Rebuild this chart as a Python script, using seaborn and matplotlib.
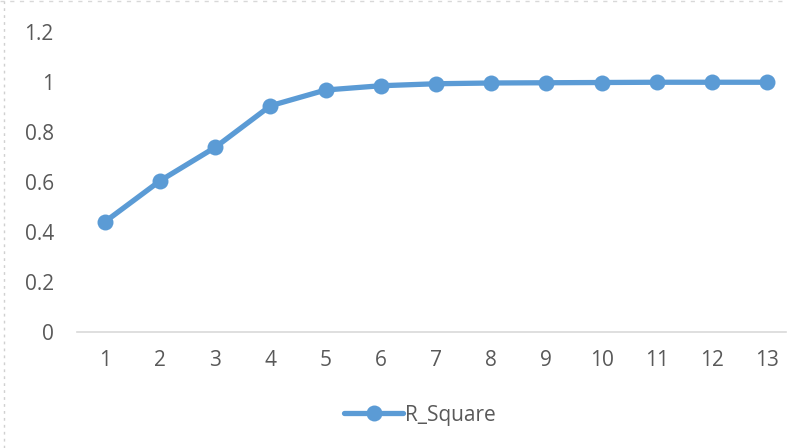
import matplotlib
matplotlib.use("Agg")
import matplotlib.pyplot as plt
import seaborn as sns
import pandas as pd

# Number of model terms and the resulting coefficient of determination
steps = [1, 2, 3, 4, 5, 6, 7, 8, 9, 10, 11, 12, 13]
r_square = [0.441, 0.605, 0.739, 0.905, 0.968, 0.985, 0.993, 0.996,
            0.997, 0.998, 0.999, 0.999, 0.999]
y_ticks = [0, 0.2, 0.4, 0.6, 0.8, 1, 1.2]
y_tick_labels = ["0", "0.2", "0.4", "0.6", "0.8", "1", "1.2"]
series_name = "R_Square"

df = pd.DataFrame({"step": steps, series_name: r_square})

sns.set_theme(style="white")
plt.rcParams["font.family"] = ["Open Sans", "DejaVu Sans"]

W, H = 787, 448
fig = plt.figure(figsize=(W / 100, H / 100), dpi=100)
ax = fig.add_axes([77.4 / W, (H - 332) / H, (786 - 77.4) / W, 300 / H])

line_color = "#5B9BD5"
text_color = "#595959"

sns.lineplot(data=df, x="step", y=series_name, ax=ax, color=line_color,
             linewidth=3.8, marker="o", markersize=11.5,
             markeredgewidth=0, label=series_name, legend=False)

# Category-style x axis: each step sits in the middle of its slot
slot = 55.17
ax.set_xlim(0.5, 0.5 + (786 - 77.4) / slot)
ax.set_ylim(0, 1.2)
ax.set_xticks(steps)
ax.set_xticklabels([str(s) for s in steps])
ax.set_yticks(y_ticks)
ax.set_yticklabels(y_tick_labels)
ax.set_xlabel("")
ax.set_ylabel("")

for side in ["top", "right", "left"]:
    ax.spines[side].set_visible(False)
ax.spines["bottom"].set_color("#D9D9D9")
ax.spines["bottom"].set_linewidth(1.2)
ax.tick_params(axis="both", length=0, labelsize=15, colors=text_color)
ax.tick_params(axis="x", pad=13)
ax.tick_params(axis="y", pad=17)
ax.grid(False)

handles, labels = ax.get_legend_handles_labels()
leg = fig.legend(handles, labels, loc="center", bbox_to_anchor=(420 / W, (H - 415) / H),
                 frameon=False, fontsize=15, handlelength=2.8, handletextpad=0.1,
                 labelcolor=text_color)

# Thin page border on the left and along the top
fig.add_artist(plt.Line2D([4 / W, 4 / W], [0, 1], color="#D0D0D0", linewidth=1,
                          linestyle=(0, (2, 3)), transform=fig.transFigure))
fig.add_artist(plt.Line2D([0, 1], [446.5 / H, 446.5 / H], color="#D8D8D8", linewidth=1,
                          linestyle=(0, (3, 4)), transform=fig.transFigure))

fig.savefig("out.png", dpi=100)
